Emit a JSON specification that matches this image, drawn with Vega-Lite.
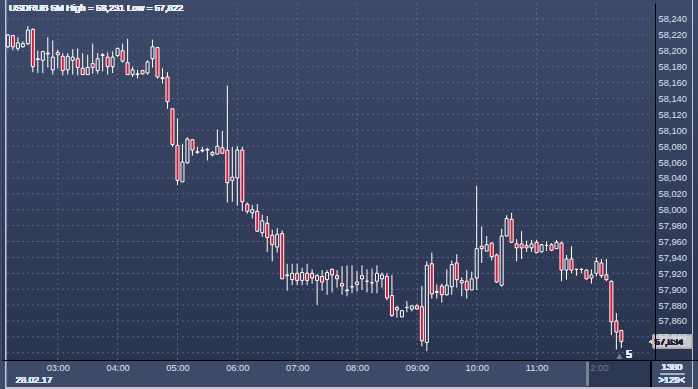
{
  "$schema": "https://vega.github.io/schema/vega-lite/v6.json",
  "autosize": "none",
  "width": 696,
  "height": 357,
  "padding": {"left": 2, "top": 3, "right": 0, "bottom": 29},
  "background": "#3e4b68",
  "view": {"stroke": null, "fill": {"gradient": "linear", "x1": 0, "y1": 0, "x2": 0, "y2": 1, "stops": [{"offset": 0, "color": "#3d4a69"}, {"offset": 1, "color": "#29344f"}]}},
  "config": {"font": "Liberation Sans"},
  "resolve": {"axis": {"x": "independent", "y": "independent"}},
  "datasets": {
    "candles": [
      {"t":"02:10","m":130,"o":58.205,"h":58.221,"l":58.203,"c":58.220},
      {"t":"02:15","m":135,"o":58.219,"h":58.220,"l":58.201,"c":58.205},
      {"t":"02:20","m":140,"o":58.203,"h":58.217,"l":58.200,"c":58.210},
      {"t":"02:25","m":145,"o":58.205,"h":58.212,"l":58.204,"c":58.209},
      {"t":"02:30","m":150,"o":58.209,"h":58.231,"l":58.207,"c":58.226},
      {"t":"02:35","m":155,"o":58.227,"h":58.228,"l":58.173,"c":58.180},
      {"t":"02:40","m":160,"o":58.190,"h":58.200,"l":58.172,"c":58.189},
      {"t":"02:45","m":165,"o":58.188,"h":58.199,"l":58.172,"c":58.199},
      {"t":"02:50","m":170,"o":58.197,"h":58.217,"l":58.179,"c":58.196},
      {"t":"02:55","m":175,"o":58.176,"h":58.213,"l":58.170,"c":58.192},
      {"t":"03:00","m":180,"o":58.198,"h":58.201,"l":58.178,"c":58.195},
      {"t":"03:05","m":185,"o":58.193,"h":58.197,"l":58.169,"c":58.175},
      {"t":"03:10","m":190,"o":58.176,"h":58.197,"l":58.170,"c":58.193},
      {"t":"03:15","m":195,"o":58.188,"h":58.202,"l":58.170,"c":58.192},
      {"t":"03:20","m":200,"o":58.190,"h":58.203,"l":58.169,"c":58.179},
      {"t":"03:25","m":205,"o":58.178,"h":58.197,"l":58.170,"c":58.170},
      {"t":"03:30","m":210,"o":58.170,"h":58.195,"l":58.170,"c":58.179},
      {"t":"03:35","m":215,"o":58.184,"h":58.209,"l":58.171,"c":58.179},
      {"t":"03:40","m":220,"o":58.175,"h":58.197,"l":58.171,"c":58.190},
      {"t":"03:45","m":225,"o":58.194,"h":58.197,"l":58.174,"c":58.195},
      {"t":"03:50","m":230,"o":58.192,"h":58.198,"l":58.170,"c":58.180},
      {"t":"03:55","m":235,"o":58.180,"h":58.199,"l":58.172,"c":58.192},
      {"t":"04:00","m":240,"o":58.194,"h":58.204,"l":58.192,"c":58.203},
      {"t":"04:05","m":245,"o":58.200,"h":58.209,"l":58.185,"c":58.187},
      {"t":"04:10","m":250,"o":58.185,"h":58.215,"l":58.170,"c":58.170},
      {"t":"04:15","m":255,"o":58.170,"h":58.180,"l":58.167,"c":58.176},
      {"t":"04:20","m":260,"o":58.171,"h":58.176,"l":58.165,"c":58.170},
      {"t":"04:25","m":265,"o":58.175,"h":58.176,"l":58.170,"c":58.171},
      {"t":"04:30","m":270,"o":58.172,"h":58.188,"l":58.170,"c":58.186},
      {"t":"04:35","m":275,"o":58.190,"h":58.214,"l":58.179,"c":58.205},
      {"t":"04:40","m":280,"o":58.204,"h":58.205,"l":58.165,"c":58.167},
      {"t":"04:45","m":285,"o":58.165,"h":58.178,"l":58.159,"c":58.166},
      {"t":"04:50","m":290,"o":58.167,"h":58.173,"l":58.127,"c":58.136},
      {"t":"04:55","m":295,"o":58.127,"h":58.127,"l":58.079,"c":58.082},
      {"t":"05:00","m":300,"o":58.081,"h":58.115,"l":58.031,"c":58.037},
      {"t":"05:05","m":305,"o":58.035,"h":58.083,"l":58.035,"c":58.060},
      {"t":"05:10","m":310,"o":58.059,"h":58.091,"l":58.058,"c":58.089},
      {"t":"05:15","m":315,"o":58.088,"h":58.089,"l":58.068,"c":58.075},
      {"t":"05:20","m":320,"o":58.072,"h":58.079,"l":58.070,"c":58.073},
      {"t":"05:25","m":325,"o":58.074,"h":58.079,"l":58.072,"c":58.075},
      {"t":"05:30","m":330,"o":58.075,"h":58.078,"l":58.062,"c":58.076},
      {"t":"05:35","m":335,"o":58.072,"h":58.074,"l":58.067,"c":58.069},
      {"t":"05:40","m":340,"o":58.070,"h":58.101,"l":58.070,"c":58.080},
      {"t":"05:45","m":345,"o":58.078,"h":58.099,"l":58.071,"c":58.071},
      {"t":"05:50","m":350,"o":58.075,"h":58.156,"l":58.009,"c":58.034},
      {"t":"05:55","m":355,"o":58.037,"h":58.079,"l":58.010,"c":58.041},
      {"t":"06:00","m":360,"o":58.040,"h":58.080,"l":58.005,"c":58.075},
      {"t":"06:05","m":365,"o":58.075,"h":58.079,"l":57.998,"c":58.010},
      {"t":"06:10","m":370,"o":58.007,"h":58.009,"l":57.995,"c":57.998},
      {"t":"06:15","m":375,"o":57.996,"h":58.006,"l":57.989,"c":58.000},
      {"t":"06:20","m":380,"o":57.998,"h":58.007,"l":57.972,"c":57.973},
      {"t":"06:25","m":385,"o":57.971,"h":57.994,"l":57.966,"c":57.986},
      {"t":"06:30","m":390,"o":57.983,"h":57.992,"l":57.947,"c":57.965},
      {"t":"06:35","m":395,"o":57.968,"h":57.975,"l":57.935,"c":57.956},
      {"t":"06:40","m":400,"o":57.953,"h":57.977,"l":57.946,"c":57.969},
      {"t":"06:45","m":405,"o":57.970,"h":57.974,"l":57.913,"c":57.913},
      {"t":"06:50","m":410,"o":57.918,"h":57.932,"l":57.898,"c":57.917},
      {"t":"06:55","m":415,"o":57.912,"h":57.932,"l":57.905,"c":57.920},
      {"t":"07:00","m":420,"o":57.920,"h":57.932,"l":57.905,"c":57.911},
      {"t":"07:05","m":425,"o":57.911,"h":57.927,"l":57.905,"c":57.921},
      {"t":"07:10","m":430,"o":57.920,"h":57.932,"l":57.905,"c":57.911},
      {"t":"07:15","m":435,"o":57.920,"h":57.925,"l":57.907,"c":57.914},
      {"t":"07:20","m":440,"o":57.911,"h":57.919,"l":57.880,"c":57.917},
      {"t":"07:25","m":445,"o":57.916,"h":57.924,"l":57.898,"c":57.909},
      {"t":"07:30","m":450,"o":57.912,"h":57.924,"l":57.893,"c":57.921},
      {"t":"07:35","m":455,"o":57.925,"h":57.926,"l":57.896,"c":57.918},
      {"t":"07:40","m":460,"o":57.917,"h":57.924,"l":57.902,"c":57.913},
      {"t":"07:45","m":465,"o":57.907,"h":57.929,"l":57.893,"c":57.904},
      {"t":"07:50","m":470,"o":57.899,"h":57.930,"l":57.891,"c":57.898},
      {"t":"07:55","m":475,"o":57.903,"h":57.930,"l":57.895,"c":57.903},
      {"t":"08:00","m":480,"o":57.906,"h":57.923,"l":57.897,"c":57.909},
      {"t":"08:05","m":485,"o":57.913,"h":57.930,"l":57.899,"c":57.917},
      {"t":"08:10","m":490,"o":57.910,"h":57.925,"l":57.896,"c":57.910},
      {"t":"08:15","m":495,"o":57.908,"h":57.926,"l":57.895,"c":57.908},
      {"t":"08:20","m":500,"o":57.910,"h":57.930,"l":57.895,"c":57.920},
      {"t":"08:25","m":505,"o":57.913,"h":57.921,"l":57.902,"c":57.918},
      {"t":"08:30","m":510,"o":57.916,"h":57.920,"l":57.886,"c":57.889},
      {"t":"08:35","m":515,"o":57.892,"h":57.918,"l":57.865,"c":57.867},
      {"t":"08:40","m":520,"o":57.877,"h":57.879,"l":57.864,"c":57.874},
      {"t":"08:45","m":525,"o":57.865,"h":57.874,"l":57.865,"c":57.873},
      {"t":"08:50","m":530,"o":57.877,"h":57.885,"l":57.871,"c":57.877},
      {"t":"08:55","m":535,"o":57.875,"h":57.880,"l":57.872,"c":57.879},
      {"t":"09:00","m":540,"o":57.879,"h":57.881,"l":57.874,"c":57.875},
      {"t":"09:05","m":545,"o":57.878,"h":57.904,"l":57.828,"c":57.835},
      {"t":"09:10","m":550,"o":57.833,"h":57.935,"l":57.822,"c":57.930},
      {"t":"09:15","m":555,"o":57.932,"h":57.946,"l":57.888,"c":57.894},
      {"t":"09:20","m":560,"o":57.896,"h":57.906,"l":57.888,"c":57.897},
      {"t":"09:25","m":565,"o":57.904,"h":57.907,"l":57.883,"c":57.893},
      {"t":"09:30","m":570,"o":57.893,"h":57.925,"l":57.892,"c":57.905},
      {"t":"09:35","m":575,"o":57.903,"h":57.936,"l":57.893,"c":57.931},
      {"t":"09:40","m":580,"o":57.933,"h":57.944,"l":57.902,"c":57.912},
      {"t":"09:45","m":585,"o":57.911,"h":57.915,"l":57.891,"c":57.908},
      {"t":"09:50","m":590,"o":57.910,"h":57.924,"l":57.888,"c":57.899},
      {"t":"09:55","m":595,"o":57.899,"h":57.922,"l":57.899,"c":57.913},
      {"t":"10:00","m":600,"o":57.914,"h":58.030,"l":57.899,"c":57.951},
      {"t":"10:05","m":605,"o":57.954,"h":57.979,"l":57.933,"c":57.951},
      {"t":"10:10","m":610,"o":57.948,"h":57.967,"l":57.948,"c":57.956},
      {"t":"10:15","m":615,"o":57.958,"h":57.959,"l":57.936,"c":57.941},
      {"t":"10:20","m":620,"o":57.943,"h":57.945,"l":57.908,"c":57.909},
      {"t":"10:25","m":625,"o":57.905,"h":57.976,"l":57.903,"c":57.967},
      {"t":"10:30","m":630,"o":57.967,"h":57.993,"l":57.966,"c":57.989},
      {"t":"10:35","m":635,"o":57.988,"h":57.996,"l":57.958,"c":57.959},
      {"t":"10:40","m":640,"o":57.957,"h":57.963,"l":57.935,"c":57.952},
      {"t":"10:45","m":645,"o":57.957,"h":57.973,"l":57.938,"c":57.952},
      {"t":"10:50","m":650,"o":57.955,"h":57.961,"l":57.947,"c":57.952},
      {"t":"10:55","m":655,"o":57.952,"h":57.962,"l":57.947,"c":57.957},
      {"t":"11:00","m":660,"o":57.959,"h":57.962,"l":57.946,"c":57.946},
      {"t":"11:05","m":665,"o":57.947,"h":57.957,"l":57.946,"c":57.956},
      {"t":"11:10","m":670,"o":57.955,"h":57.960,"l":57.948,"c":57.955},
      {"t":"11:15","m":675,"o":57.956,"h":57.958,"l":57.948,"c":57.949},
      {"t":"11:20","m":680,"o":57.951,"h":57.962,"l":57.951,"c":57.959},
      {"t":"11:25","m":685,"o":57.958,"h":57.960,"l":57.910,"c":57.924},
      {"t":"11:30","m":690,"o":57.924,"h":57.943,"l":57.912,"c":57.938},
      {"t":"11:35","m":695,"o":57.938,"h":57.954,"l":57.920,"c":57.924},
      {"t":"11:40","m":700,"o":57.925,"h":57.925,"l":57.917,"c":57.925},
      {"t":"11:45","m":705,"o":57.925,"h":57.926,"l":57.920,"c":57.925},
      {"t":"11:50","m":710,"o":57.924,"h":57.925,"l":57.912,"c":57.913},
      {"t":"11:55","m":715,"o":57.914,"h":57.925,"l":57.907,"c":57.918},
      {"t":"12:00","m":720,"o":57.920,"h":57.940,"l":57.916,"c":57.935},
      {"t":"12:05","m":725,"o":57.933,"h":57.938,"l":57.914,"c":57.917},
      {"t":"12:10","m":730,"o":57.918,"h":57.938,"l":57.910,"c":57.912},
      {"t":"12:15","m":735,"o":57.910,"h":57.911,"l":57.842,"c":57.859},
      {"t":"12:20","m":740,"o":57.860,"h":57.870,"l":57.824,"c":57.846},
      {"t":"12:25","m":745,"o":57.848,"h":57.849,"l":57.826,"c":57.834}
    ],
    "grid": [
      {"g":57.82},{"g":57.84},{"g":57.86},{"g":57.88},{"g":57.90},{"g":57.92},{"g":57.94},{"g":57.96},{"g":57.98},{"g":58.00},{"g":58.02},
      {"g":58.04},{"g":58.06},{"g":58.08},{"g":58.10},{"g":58.12},{"g":58.14},{"g":58.16},{"g":58.18},{"g":58.20},{"g":58.22},{"g":58.24}
    ],
    "hours": [
      {"hm":180},{"hm":240},{"hm":300},{"hm":360},{"hm":420},{"hm":480},{"hm":540},{"hm":600},{"hm":660},{"hm":720}
    ]
  },
  "data": {"name": "candles"},
  "layer": [
    {
      "data": {"name": "grid"},
      "mark": {"type": "rule", "color": "#5a6683", "strokeDash": [2, 3], "strokeWidth": 1},
      "encoding": {
        "y": {"field": "g", "type": "quantitative", "scale": {"domain": [57.8109, 58.2601], "nice": false, "zero": false}, "axis": null},
        "x": {"datum": 129.113, "type": "quantitative", "scale": {"domain": [129.113, 816.83], "nice": false, "zero": false}, "axis": null},
        "x2": {"datum": 774.34}
      }
    },
    {
      "data": {"name": "hours"},
      "mark": {"type": "rule", "color": "#5a6683", "strokeDash": [2, 3], "strokeWidth": 1},
      "encoding": {
        "x": {"field": "hm", "type": "quantitative", "scale": {"domain": [129.113, 816.83], "nice": false, "zero": false}, "axis": null},
        "y": {"datum": 58.2601, "type": "quantitative", "scale": {"domain": [57.8109, 58.2601], "nice": false, "zero": false}, "axis": null},
        "y2": {"datum": 57.8109}
      }
    },
    {
      "mark": {"type": "rect", "fill": "#2c3752"},
      "encoding": {
        "x": {"datum": 711.1, "type": "quantitative", "scale": {"domain": [129.113, 816.83], "nice": false, "zero": false}, "axis": null},
        "x2": {"datum": 774.34},
        "y": {"datum": 57.8109, "type": "quantitative", "scale": {"domain": [57.8109, 58.2601], "nice": false, "zero": false}, "axis": null},
        "y2": {"datum": 57.7769}
      }
    },
    {
      "mark": {"type": "rule", "color": "#7d8699", "strokeWidth": 1.5},
      "encoding": {
        "x": {"datum": 711.1, "type": "quantitative", "scale": {"domain": [129.113, 816.83], "nice": false, "zero": false}, "axis": null},
        "y": {"datum": 57.8085, "type": "quantitative", "scale": {"domain": [57.8109, 58.2601], "nice": false, "zero": false}, "axis": null},
        "y2": {"datum": 57.7782}
      }
    },
    {
      "mark": {"type": "rule", "color": "#000000", "strokeWidth": 1},
      "encoding": {
        "x": {"datum": 774.34, "type": "quantitative", "scale": {"domain": [129.113, 816.83], "nice": false, "zero": false}, "axis": null},
        "y": {"datum": 57.8109, "type": "quantitative", "scale": {"domain": [57.8109, 58.2601], "nice": false, "zero": false}, "axis": null},
        "y2": {"datum": 57.7744}
      }
    },
    {
      "mark": {"type": "rule", "color": "#1d2638", "strokeWidth": 1},
      "encoding": {
        "x": {"datum": 128.62, "type": "quantitative", "scale": {"domain": [129.113, 816.83], "nice": false, "zero": false}, "axis": null},
        "y": {"datum": 58.2639, "type": "quantitative", "scale": {"domain": [57.8109, 58.2601], "nice": false, "zero": false}, "axis": null},
        "y2": {"datum": 57.7757}
      }
    },
    {
      "mark": {"type": "rule", "color": "#c3c7cf", "strokeWidth": 1},
      "encoding": {
        "x": {"datum": 127.63, "type": "quantitative", "scale": {"domain": [129.113, 816.83], "nice": false, "zero": false}, "axis": null},
        "y": {"datum": 58.2639, "type": "quantitative", "scale": {"domain": [57.8109, 58.2601], "nice": false, "zero": false}, "axis": null},
        "y2": {"datum": 57.7744}
      }
    },
    {
      "mark": {"type": "rule", "color": "#c3c7cf", "strokeWidth": 1},
      "encoding": {
        "x": {"datum": 816.33, "type": "quantitative", "scale": {"domain": [129.113, 816.83], "nice": false, "zero": false}, "axis": null},
        "y": {"datum": 58.2639, "type": "quantitative", "scale": {"domain": [57.8109, 58.2601], "nice": false, "zero": false}, "axis": null},
        "y2": {"datum": 57.7744}
      }
    },
    {
      "mark": {"type": "rule", "color": "#c3c7cf", "strokeWidth": 1.5},
      "encoding": {
        "x": {"datum": 127.137, "type": "quantitative", "scale": {"domain": [129.113, 816.83], "nice": false, "zero": false}, "axis": null},
        "x2": {"datum": 816.83},
        "y": {"datum": 57.7753, "type": "quantitative", "scale": {"domain": [57.8109, 58.2601], "nice": false, "zero": false}, "axis": null}
      }
    },
    {
      "mark": {"type": "rule", "color": "#ffffff", "strokeWidth": 1},
      "encoding": {
        "x": {"field": "m", "type": "quantitative", "scale": {"domain": [129.113, 816.83], "nice": false, "zero": false}, "axis": null},
        "y": {"field": "l", "type": "quantitative", "scale": {"domain": [57.8109, 58.2601], "nice": false, "zero": false}, "axis": null},
        "y2": {"field": "h"}
      }
    },
    {
      "mark": {"type": "bar", "size": 3, "stroke": "#ffffff", "strokeWidth": 1},
      "encoding": {
        "x": {
          "field": "m", "type": "quantitative",
          "scale": {"domain": [129.113, 816.83], "nice": false, "zero": false},
          "axis": {
            "title": null, "orient": "bottom", "values": [180, 240, 300, 360, 420, 480, 540, 600, 660, 720],
            "labelExpr": "(datum.value < 600 ? '0' : '') + floor(datum.value / 60) + ':00'",
            "grid": false, "ticks": false, "tickSize": 0, "domain": true, "domainColor": "#000000", "domainWidth": 1,
            "labelColor": {"condition": {"test": "datum.value >= 720", "value": "#6f7a90"}, "value": "#dbe3f0"},
            "labelFont": "Liberation Sans", "labelFontSize": 9.3,
            "labelPadding": 3, "labelFlush": false, "labelOverlap": false, "zindex": 2
          }
        },
        "y": {
          "field": "o", "type": "quantitative",
          "scale": {"domain": [57.8109, 58.2601], "nice": false, "zero": false},
          "axis": {
            "title": null, "orient": "right", "offset": -43,
            "values": [57.84, 57.86, 57.88, 57.9, 57.92, 57.94, 57.96, 57.98, 58.0, 58.02, 58.04, 58.06, 58.08, 58.1, 58.12, 58.14, 58.16, 58.18, 58.2, 58.22, 58.24],
            "labelExpr": "replace(format(datum.value, '.3f'), '.', ',')",
            "grid": false, "ticks": false, "tickSize": 0, "domain": true, "domainColor": "#000000", "domainWidth": 1,
            "labelColor": "#dbe3f0", "labelFont": "Liberation Sans", "labelFontSize": 9.3,
            "labelPadding": 3, "labelFlush": false, "labelOverlap": false, "zindex": 1
          }
        },
        "y2": {"field": "c"},
        "fill": {
          "condition": {"test": "datum.c < datum.o", "value": "#e8102f"},
          "field": "c", "type": "quantitative",
          "scale": {"domain": [57.8109, 58.2601], "range": ["#29344f", "#3d4a69"]},
          "legend": null
        }
      }
    },
    {
      "mark": {"type": "text", "text": "USDRUB 5M High = 58,231 Low = 57,822", "align": "left", "baseline": "middle", "fontSize": 9.3, "color": "#e9eef6", "font": "Liberation Sans"},
      "encoding": {
        "x": {"datum": 131.09, "type": "quantitative", "scale": {"domain": [129.113, 816.83], "nice": false, "zero": false}, "axis": null},
        "y": {"datum": 58.2535, "type": "quantitative", "scale": {"domain": [57.8109, 58.2601], "nice": false, "zero": false}, "axis": null}
      }
    },
    {
      "mark": {"type": "text", "text": "28.02.17", "align": "left", "baseline": "middle", "fontSize": 9.3, "color": "#dbe3f0", "font": "Liberation Sans"},
      "encoding": {
        "x": {"datum": 138.0, "type": "quantitative", "scale": {"domain": [129.113, 816.83], "nice": false, "zero": false}, "axis": null},
        "y": {"datum": 57.7857, "type": "quantitative", "scale": {"domain": [57.8109, 58.2601], "nice": false, "zero": false}, "axis": null}
      }
    },
    {
      "mark": {"type": "rect", "fill": "#c9c9c9", "stroke": "#a4a4a4", "strokeWidth": 1},
      "encoding": {
        "x": {"datum": 776.81, "type": "quantitative", "scale": {"domain": [129.113, 816.83], "nice": false, "zero": false}, "axis": null},
        "x2": {"datum": 815.84},
        "y": {"datum": 57.8424, "type": "quantitative", "scale": {"domain": [57.8109, 58.2601], "nice": false, "zero": false}, "axis": null},
        "y2": {"datum": 57.826}
      }
    },
    {
      "mark": {"type": "point", "shape": "triangle-left", "filled": true, "size": 45, "color": "#c9c9c9", "opacity": 1},
      "encoding": {
        "x": {"datum": 775.8, "type": "quantitative", "scale": {"domain": [129.113, 816.83], "nice": false, "zero": false}, "axis": null},
        "y": {"datum": 57.834, "type": "quantitative", "scale": {"domain": [57.8109, 58.2601], "nice": false, "zero": false}, "axis": null}
      }
    },
    {
      "mark": {"type": "text", "text": "57,834", "align": "left", "baseline": "middle", "fontSize": 9.3, "color": "#1e2535", "font": "Liberation Sans"},
      "encoding": {
        "x": {"datum": 778.3, "type": "quantitative", "scale": {"domain": [129.113, 816.83], "nice": false, "zero": false}, "axis": null},
        "y": {"datum": 57.834, "type": "quantitative", "scale": {"domain": [57.8109, 58.2601], "nice": false, "zero": false}, "axis": null}
      }
    },
    {
      "mark": {"type": "text", "text": "1360", "align": "center", "baseline": "middle", "fontSize": 9.3, "color": "#dbe3f0", "font": "Liberation Sans"},
      "encoding": {
        "x": {"datum": 795.6, "type": "quantitative", "scale": {"domain": [129.113, 816.83], "nice": false, "zero": false}, "axis": null},
        "y": {"datum": 57.8021, "type": "quantitative", "scale": {"domain": [57.8109, 58.2601], "nice": false, "zero": false}, "axis": null}
      }
    },
    {
      "mark": {"type": "text", "text": ">129<", "align": "center", "baseline": "middle", "fontSize": 9.3, "color": "#dbe3f0", "font": "Liberation Sans"},
      "encoding": {
        "x": {"datum": 795.6, "type": "quantitative", "scale": {"domain": [129.113, 816.83], "nice": false, "zero": false}, "axis": null},
        "y": {"datum": 57.7857, "type": "quantitative", "scale": {"domain": [57.8109, 58.2601], "nice": false, "zero": false}, "axis": null}
      }
    },
    {
      "mark": {"type": "rule", "color": "#aab3c4", "strokeWidth": 1},
      "encoding": {
        "x": {"datum": 784.2, "type": "quantitative", "scale": {"domain": [129.113, 816.83], "nice": false, "zero": false}, "axis": null},
        "x2": {"datum": 807.9},
        "y": {"datum": 57.7933, "type": "quantitative", "scale": {"domain": [57.8109, 58.2601], "nice": false, "zero": false}, "axis": null}
      }
    },
    {
      "mark": {"type": "point", "shape": "triangle-up", "filled": true, "size": 18, "color": "#77809a", "opacity": 1},
      "encoding": {
        "x": {"datum": 743.2, "type": "quantitative", "scale": {"domain": [129.113, 816.83], "nice": false, "zero": false}, "axis": null},
        "y": {"datum": 57.8153, "type": "quantitative", "scale": {"domain": [57.8109, 58.2601], "nice": false, "zero": false}, "axis": null}
      }
    },
    {
      "mark": {"type": "text", "text": "5", "align": "center", "baseline": "middle", "fontSize": 10, "color": "#e9eef6", "font": "Liberation Sans"},
      "encoding": {
        "x": {"datum": 752.6, "type": "quantitative", "scale": {"domain": [129.113, 816.83], "nice": false, "zero": false}, "axis": null},
        "y": {"datum": 57.8172, "type": "quantitative", "scale": {"domain": [57.8109, 58.2601], "nice": false, "zero": false}, "axis": null}
      }
    }
  ]
}
